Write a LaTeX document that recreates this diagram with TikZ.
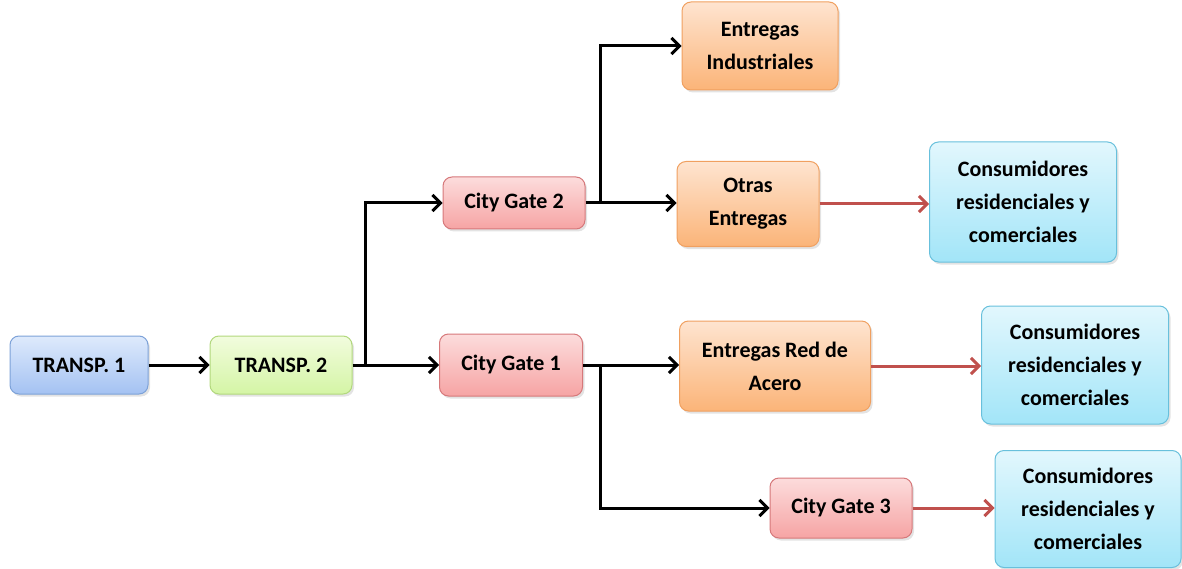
\documentclass[tikz,border=0pt]{standalone}
\usepackage{fontspec}
\setmainfont{Carlito}
\usetikzlibrary{arrows.meta,shadows}
\definecolor{redarr}{HTML}{C0504D}
\tikzset{
  box/.style={rounded corners=9pt, line width=1pt, align=center, inner sep=2pt,
    font=\bfseries\fontsize{22}{33}\selectfont, text=black,
    drop shadow={opacity=0.22, shadow xshift=2pt, shadow yshift=-2.5pt}},
  bluebox/.style={box, draw={rgb,255:red,125;green,162;blue,216}, top color={rgb,255:red,222;green,234;blue,252}, bottom color={rgb,255:red,164;green,194;blue,242}},
  greenbox/.style={box, draw={rgb,255:red,178;green,216;blue,125}, top color={rgb,255:red,242;green,252;blue,222}, bottom color={rgb,255:red,212;green,245;blue,165}},
  pinkbox/.style={box, draw={rgb,255:red,214;green,120;blue,122}, top color={rgb,255:red,252;green,220;blue,220}, bottom color={rgb,255:red,246;green,164;blue,164}},
  orangebox/.style={box, draw={rgb,255:red,240;green,160;blue,96}, top color={rgb,255:red,254;green,228;blue,208}, bottom color={rgb,255:red,251;green,180;blue,120}},
  cyanbox/.style={box, draw={rgb,255:red,104;green,192;blue,220}, top color={rgb,255:red,226;green,247;blue,253}, bottom color={rgb,255:red,162;green,229;blue,248}},
  arr/.style={line width=3pt, black, -{Straight Barb[length=8pt,width=16pt,line width=3pt]}},
  rarr/.style={line width=3pt, redarr, -{Straight Barb[length=8pt,width=16pt,line width=3pt]}},
}
\begin{document}
\begin{tikzpicture}[x=1pt,y=-1pt]
\useasboundingbox (0,0) rectangle (1182,569);
\node[bluebox, minimum width=138pt, minimum height=58pt] (t1) at (79,365) {TRANSP. 1};
\node[greenbox, minimum width=142pt, minimum height=58pt] (t2) at (281,365) {TRANSP. 2};
\node[pinkbox, minimum width=142pt, minimum height=52pt] (cg2) at (514,203) {City Gate 2};
\node[pinkbox, minimum width=143pt, minimum height=62pt] (cg1) at (511,365) {City Gate 1};
\node[pinkbox, minimum width=142pt, minimum height=60pt] (cg3) at (841,508) {City Gate 3};
\node[orangebox, minimum width=156pt, minimum height=88pt] (ei) at (760,46) {Entregas\\Industriales};
\node[orangebox, minimum width=142pt, minimum height=85pt] (oe) at (748,204) {Otras\\Entregas};
\node[orangebox, minimum width=191pt, minimum height=90pt] (er) at (775,366) {Entregas Red de\\Acero};
\node[cyanbox, minimum width=187pt, minimum height=120pt] (c1) at (1023,202) {Consumidores\\residenciales y\\comerciales};
\node[cyanbox, minimum width=187pt, minimum height=118pt] (c2) at (1075,365) {Consumidores\\residenciales y\\comerciales};
\node[cyanbox, minimum width=186pt, minimum height=117pt] (c3) at (1088,509) {Consumidores\\residenciales y\\comerciales};
\coordinate (j1) at (365,365);
\coordinate (j2) at (600,203);
\coordinate (j3) at (600,365);
\draw[arr] (t1) -- (t2);
\draw[arr] (t2.east) -- (t2.east -| cg1.west);
\draw[arr] (j1) |- (cg2.west);
\draw[arr] (cg2.east) -- (cg2.east -| oe.west);
\draw[arr] (j2) |- (ei.west);
\draw[arr] (cg1.east) -- (cg1.east -| er.west);
\draw[arr] (j3) |- (cg3.west);
\draw[rarr] (oe.east) -- (oe.east -| c1.west);
\draw[rarr] (er.east) -- (er.east -| c2.west);
\draw[rarr] (cg3.east) -- (cg3.east -| c3.west);
\end{tikzpicture}
\end{document}
